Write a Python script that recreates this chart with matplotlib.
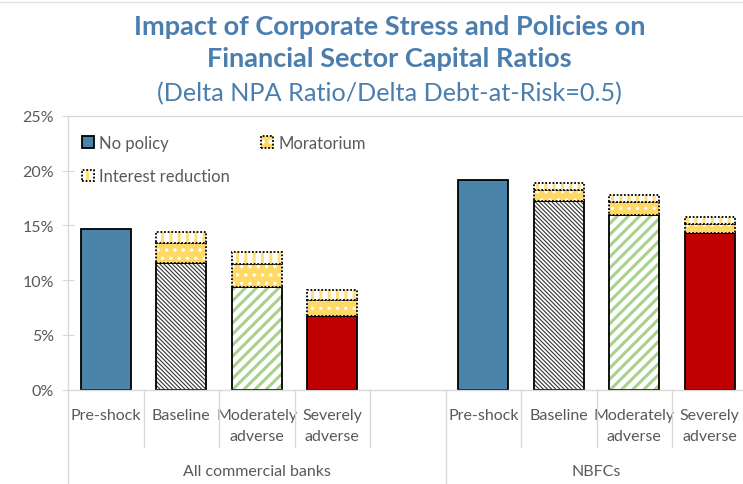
"""Corporate stress and policy impact on financial sector capital ratios."""

import matplotlib
matplotlib.use("Agg")
import matplotlib.pyplot as plt
from matplotlib.patches import Patch
import numpy as np

CATEGORIES = ["Pre-shock", "Baseline", "Moderately\nadverse", "Severely\nadverse"]
GROUPS = ["All commercial banks", "NBFCs"]

# values in percent; policy columns are increments stacked on top of no-policy
BANKS_NO_POLICY = [14.7, 11.6, 9.35, 6.7]
BANKS_MORATORIUM = [0.0, 1.75, 2.15, 1.45]
BANKS_INTEREST = [0.0, 1.05, 1.1, 0.95]
NBFC_NO_POLICY = [19.1, 17.25, 15.9, 14.3]
NBFC_MORATORIUM = [0.0, 1.0, 1.2, 0.85]
NBFC_INTEREST = [0.0, 0.65, 0.65, 0.6]

Y_TICKS = [0, 5, 10, 15, 20, 25]

TITLE_COLOR = "#4A7EAF"
TEXT_COLOR = "#595959"
AXIS_COLOR = "#D9D9D9"
BLUE = "#4A84A8"
RED = "#C00000"
GREEN = "#A9D18E"
YELLOW = "#FFD966"
LIGHT_YELLOW = "#FFE07A"

# face, hatch, hatch colour, hatch linewidth per scenario
SCENARIO_STYLE = [
    (BLUE, None, None, 1.0),
    ("white", "\\" * 8, "#333333", 0.8),
    ("white", "///", GREEN, 2.2),
    (RED, None, None, 1.0),
]

BAR_WIDTH = 0.66

plt.rcParams["font.family"] = ["Lato", "DejaVu Sans"]


def hatched_bar(ax, x, height, bottom, face, hatch, hatch_color, hatch_lw, edge_style):
    plt.rcParams["hatch.linewidth"] = hatch_lw
    ax.bar(x, height, BAR_WIDTH, bottom=bottom, color=face,
           edgecolor=hatch_color if hatch else face, hatch=hatch, linewidth=0)
    ax.bar(x, height, BAR_WIDTH, bottom=bottom, fill=False,
           edgecolor="black", linewidth=1.3, linestyle=edge_style)


def main() -> None:
    fig = plt.figure(figsize=(7.43, 4.85), dpi=100)
    ax = fig.add_axes([68 / 743, 1 - 390.7 / 485, 679.5 / 743, 274 / 485])

    n = len(CATEGORIES)
    positions = [np.arange(n), np.arange(n) + n + 1]
    data = [
        (BANKS_NO_POLICY, BANKS_MORATORIUM, BANKS_INTEREST),
        (NBFC_NO_POLICY, NBFC_MORATORIUM, NBFC_INTEREST),
    ]

    for xs, (base, morat, interest) in zip(positions, data):
        for i, x in enumerate(xs):
            face, hatch, hcol, hlw = SCENARIO_STYLE[i]
            hatched_bar(ax, x, base[i], 0, face, hatch, hcol, hlw, "-")
            if morat[i] > 0:
                hatched_bar(ax, x, morat[i], base[i], YELLOW, "..", "white", 1.2, (0, (1, 1)))
            if interest[i] > 0:
                hatched_bar(ax, x, interest[i], base[i] + morat[i], "white", "||",
                            LIGHT_YELLOW, 2.2, (0, (1, 1)))

    all_x = np.concatenate(positions)
    ax.set_xlim(-0.5, all_x[-1] + 0.5)
    ax.set_ylim(0, 25)
    ax.set_yticks(Y_TICKS)
    ax.set_yticklabels([f"{v}%" for v in Y_TICKS])
    ax.set_xticks(all_x)
    ax.set_xticklabels(CATEGORIES * 2, va="top", linespacing=1.65)
    ax.tick_params(axis="x", length=0, pad=13, labelsize=11.5, labelcolor=TEXT_COLOR)
    ax.tick_params(axis="y", direction="inout", length=8, color=AXIS_COLOR,
                   labelsize=11.5, labelcolor=TEXT_COLOR, pad=6)

    for side in ["left", "top", "bottom"]:
        ax.spines[side].set_color(AXIS_COLOR)
        ax.spines[side].set_linewidth(1.0)
    ax.spines["right"].set_visible(False)

    # category separators below the axis
    trans = ax.get_xaxis_transform()
    for xs in positions:
        for b in xs[:-1] + 0.5:
            ax.plot([b, b], [0, -0.21], color=AXIS_COLOR, lw=1.0, transform=trans, clip_on=False)
    ax.plot([3.5, 3.5], [0, -0.21], color=AXIS_COLOR, lw=1.0, transform=trans, clip_on=False)
    for b in [-0.5, n + 0.5]:
        ax.plot([b, b], [0, -0.34], color=AXIS_COLOR, lw=1.0, transform=trans, clip_on=False)

    group_centers = [(-0.5 + n + 0.5) / 2, (n + 0.5 + all_x[-1] + 0.5) / 2]
    for label, cx in zip(GROUPS, group_centers):
        ax.text(cx, -0.295, label, transform=trans, ha="center", va="center",
                fontsize=11.5, color=TEXT_COLOR)

    # legend
    plt.rcParams["hatch.linewidth"] = 1.2
    h_nopol = Patch(facecolor=BLUE, edgecolor="black", linewidth=1.3)
    h_morat = (Patch(facecolor=YELLOW, edgecolor="white", hatch="..", linewidth=0),
               Patch(fill=False, edgecolor="black", linewidth=1.3, linestyle=(0, (1, 1))))
    plt.rcParams["hatch.linewidth"] = 2.2
    h_int = (Patch(facecolor="white", edgecolor=LIGHT_YELLOW, hatch="||", linewidth=0),
             Patch(fill=False, edgecolor="black", linewidth=1.3, linestyle=(0, (1, 1))))
    ax.legend([h_nopol, h_int, h_morat],
              ["No policy", "Interest reduction", "Moratorium"],
              ncol=2, loc="upper left", bbox_to_anchor=(0.02, 0.93),
              frameon=False, fontsize=12, labelcolor=TEXT_COLOR,
              handlelength=0.72, handleheight=0.72, handletextpad=0.3,
              labelspacing=1.05, columnspacing=1.9, borderaxespad=0, borderpad=0)

    fig.text(0.524, 1 - 35 / 485, "Impact of Corporate Stress and Policies on",
             ha="center", va="baseline", fontsize=19.5, fontweight="bold", color=TITLE_COLOR)
    fig.text(0.524, 1 - 67 / 485, "Financial Sector Capital Ratios",
             ha="center", va="baseline", fontsize=19.5, fontweight="bold", color=TITLE_COLOR)
    fig.text(0.524, 1 - 101 / 485, "(Delta NPA Ratio/Delta Debt-at-Risk=0.5)",
             ha="center", va="baseline", fontsize=18.2, color=TITLE_COLOR)

    fig.add_artist(plt.Line2D([0, 1], [0.994, 0.994], color="#E0E0E0", lw=1.0))

    fig.savefig("out.png", dpi=100)


if __name__ == "__main__":
    main()
